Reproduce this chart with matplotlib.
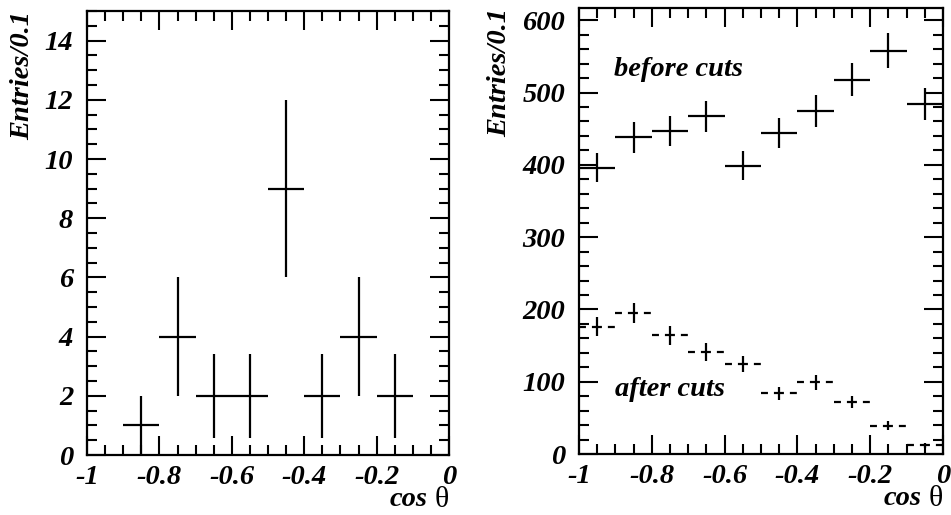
import matplotlib.pyplot as plt
from matplotlib.ticker import MultipleLocator, FuncFormatter

plt.rcParams['font.family'] = ['Liberation Serif', 'DejaVu Serif']
plt.rcParams['font.weight'] = 'bold'
plt.rcParams['font.style'] = 'italic'
plt.rcParams['axes.unicode_minus'] = False
plt.rcParams['lines.scale_dashes'] = False

# left panel: selected events
left_x = [-0.85, -0.75, -0.65, -0.55, -0.45, -0.35, -0.25, -0.15]
left_y = [1, 4, 2, 2, 9, 2, 4, 2]
left_err = [1.0, 2.0, 1.41, 1.41, 3.0, 1.41, 2.0, 1.41]

# right panel: before / after cuts
right_x = [-0.95, -0.85, -0.75, -0.65, -0.55, -0.45, -0.35, -0.25, -0.15, -0.05]
before_y = [396, 438, 447, 467, 399, 444, 475, 518, 558, 484]
before_err = [20, 21, 21, 22, 20, 21, 22, 23, 24, 22]
after_y = [176, 195, 164, 141, 124, 84, 99, 72, 39, 12]
after_err = [13, 14, 13, 12, 11, 9, 10, 8, 6, 3.5]
bin_half = 0.05

FS = 20.5

fig = plt.figure(figsize=(9.51, 5.15), dpi=100)
ax1 = fig.add_axes([0.0915, 0.1165, 0.3807, 0.862])
ax2 = fig.add_axes([0.6088, 0.1184, 0.3828, 0.8661])


def style(ax, ymajor, yminor, ylim):
    ax.set_xlim(-1, 0)
    ax.set_ylim(0, ylim)
    ax.xaxis.set_major_locator(MultipleLocator(0.2))
    ax.xaxis.set_minor_locator(MultipleLocator(0.05))
    ax.yaxis.set_major_locator(MultipleLocator(ymajor))
    ax.yaxis.set_minor_locator(MultipleLocator(yminor))
    ax.xaxis.set_major_formatter(FuncFormatter(lambda v, p: '%g' % round(v, 2)))
    ax.yaxis.set_major_formatter(FuncFormatter(lambda v, p: '%g' % v))
    ax.tick_params(which='both', direction='in', top=True, right=True, width=1.5,
                   labelsize=FS)
    ax.tick_params(which='major', length=14)
    ax.tick_params(which='minor', length=7)
    ax.tick_params(axis='x', pad=7)
    ax.tick_params(axis='y', pad=10)
    for s in ax.spines.values():
        s.set_linewidth(1.6)


style(ax1, 2, 0.5, 15)
style(ax2, 100, 20, 617)

ax1.errorbar(left_x, left_y, xerr=bin_half, yerr=left_err, fmt='none',
             ecolor='black', elinewidth=1.6, capsize=0)

ax2.errorbar(right_x, before_y, xerr=bin_half, yerr=before_err, fmt='none',
             ecolor='black', elinewidth=1.6, capsize=0)
eb = ax2.errorbar(right_x, after_y, xerr=bin_half, yerr=after_err, fmt='none',
                  ecolor='black', elinewidth=1.6, capsize=0)
eb[2][0].set_linestyle((0, (5, 4.3, 7.2, 4.3, 5, 100)))

ax2.text(0.095, 0.862, 'before cuts', transform=ax2.transAxes, fontsize=FS,
         va='center', ha='left')
ax2.text(0.1, 0.145, 'after cuts', transform=ax2.transAxes, fontsize=FS,
         va='center', ha='left')

for ax, xl in [(ax1, -0.177), (ax2, -0.217)]:
    ax.text(xl, 1.0, 'Entries/0.1', transform=ax.transAxes, rotation=90,
            fontsize=FS, va='top', ha='center')
    ax.text(1.0, -0.072, 'θ', transform=ax.transAxes, fontsize=FS + 1,
            fontweight='normal', fontstyle='normal', ha='right', va='top')
    ax.text(0.94, -0.072, 'cos', transform=ax.transAxes, fontsize=FS,
            ha='right', va='top')

fig.savefig('out.png', dpi=100)
